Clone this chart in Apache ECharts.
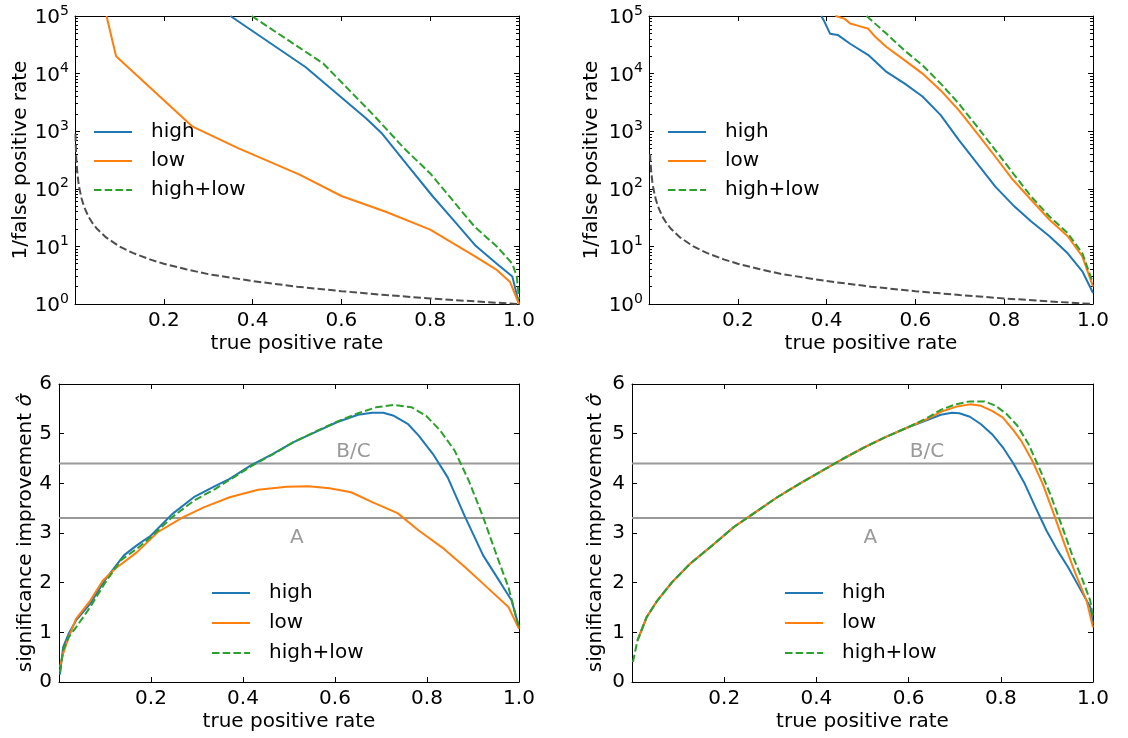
<!DOCTYPE html>
<html><head><meta charset="utf-8">
<script src="https://cdn.jsdelivr.net/npm/echarts@6/dist/echarts.min.js"></script>
<style>html,body{margin:0;padding:0;background:#fff}#c{width:1128px;height:738px}</style>
</head><body><div id="c"></div>
<script>
// ---------- data ----------
const seriesNames = ['high', 'low', 'high+low'];
const seriesColors = ['#1f77b4', '#ff7f0e', '#2ca02c'];

// top-left: 1/FPR vs TPR
const tlHigh = [[0.35,100000],[0.519,13000],[0.656,1660],[0.692,900],[0.75,250],[0.805,75],[0.85,30],[0.901,10.5],[0.95,5],[0.985,3.0],[1.0,1.0]];
const tlLow = [[0.071,100000],[0.0925,20000],[0.265,1200],[0.366,515],[0.507,174],[0.6,75],[0.7,40],[0.8,19.5],[0.9,6.8],[0.95,3.9],[0.98,2.4],[1.0,1.0]];
const tlBoth = [[0.398,100000],[0.559,15000],[0.676,1780],[0.74,515],[0.8,185],[0.85,64],[0.9,22],[0.95,10],[0.985,5],[0.995,3],[1.0,1.2]];
const tlRandom = [[0.0011,900],[0.002,500],[0.003,333],[0.005,200],[0.0075,133],[0.01,100],[0.015,67],[0.02,50],[0.03,33],[0.04,25],[0.05,20],[0.07,14.3],[0.1,10],[0.13,7.7],[0.17,5.9],[0.2,5],[0.25,4],[0.3,3.3],[0.4,2.5],[0.5,2],[0.6,1.67],[0.7,1.43],[0.8,1.25],[0.9,1.11],[1.0,1.0]];

// top-right
const trHigh = [[0.388,100000],[0.395,80000],[0.408,49000],[0.425,47000],[0.453,33000],[0.494,21000],[0.535,10700],[0.576,6700],[0.616,4000],[0.657,1900],[0.698,700],[0.739,277],[0.78,109],[0.82,52],[0.861,27],[0.902,15],[0.943,7.6],[0.976,3.7],[1.0,1.55]];
const trLow = [[0.42,100000],[0.44,90000],[0.453,74000],[0.47,68000],[0.494,60000],[0.51,43000],[0.535,29000],[0.576,17000],[0.616,10000],[0.657,5100],[0.698,2300],[0.739,920],[0.78,360],[0.82,142],[0.861,64],[0.902,29],[0.943,15],[0.976,6.7],[1.0,2.0]];
const trBoth = [[0.49,100000],[0.535,49000],[0.576,25000],[0.616,14000],[0.657,6700],[0.698,3000],[0.739,1200],[0.78,470],[0.82,186],[0.861,73],[0.902,33],[0.943,17],[0.976,7.6],[1.0,2.3]];
const trRandom = [[0.0025,400],[0.003,333],[0.005,200],[0.0075,133],[0.01,100],[0.015,67],[0.02,50],[0.03,33],[0.04,25],[0.05,20],[0.07,14.3],[0.1,10],[0.13,7.7],[0.17,5.9],[0.2,5],[0.25,4],[0.3,3.3],[0.4,2.5],[0.5,2],[0.6,1.67],[0.7,1.43],[0.8,1.25],[0.9,1.11],[1.0,1.0]];

// bottom-left: significance improvement vs TPR
const blHigh = [[0.002,0.15],[0.009,0.7],[0.021,0.97],[0.037,1.24],[0.068,1.58],[0.099,2.04],[0.141,2.55],[0.169,2.75],[0.2,2.95],[0.246,3.38],[0.293,3.72],[0.34,3.95],[0.371,4.09],[0.417,4.36],[0.464,4.59],[0.51,4.83],[0.557,5.03],[0.604,5.23],[0.65,5.38],[0.681,5.42],[0.705,5.42],[0.728,5.36],[0.759,5.19],[0.782,4.96],[0.813,4.59],[0.845,4.12],[0.883,3.32],[0.922,2.55],[0.961,1.98],[0.984,1.64],[1.0,1.1]];
const blLow = [[0.002,0.3],[0.009,0.57],[0.021,0.9],[0.037,1.27],[0.068,1.64],[0.095,2.04],[0.122,2.28],[0.169,2.61],[0.215,3.02],[0.27,3.32],[0.316,3.52],[0.371,3.72],[0.433,3.87],[0.495,3.93],[0.542,3.94],[0.588,3.9],[0.635,3.82],[0.681,3.62],[0.736,3.4],[0.782,3.05],[0.837,2.68],[0.883,2.31],[0.93,1.91],[0.977,1.51],[1.0,1.07]];
const blBoth = [[0.002,0.2],[0.009,0.64],[0.021,0.9],[0.037,1.1],[0.068,1.51],[0.099,1.98],[0.134,2.45],[0.169,2.68],[0.2,2.92],[0.246,3.32],[0.293,3.65],[0.34,3.89],[0.371,4.07],[0.417,4.34],[0.464,4.58],[0.51,4.83],[0.557,5.04],[0.604,5.24],[0.65,5.41],[0.689,5.53],[0.728,5.58],[0.767,5.53],[0.798,5.36],[0.829,5.06],[0.86,4.66],[0.891,4.05],[0.922,3.32],[0.953,2.51],[0.977,1.91],[0.992,1.37],[1.0,1.1]];

// bottom-right
const brHead = [[0.012,0.84],[0.032,1.31],[0.055,1.64],[0.087,2.01],[0.126,2.38],[0.174,2.75],[0.221,3.12],[0.268,3.42],[0.315,3.72],[0.363,3.99],[0.41,4.24],[0.457,4.49],[0.505,4.73],[0.552,4.94],[0.599,5.13]];
const brBothStart = [[0.002,0.4]];
const brHighTail = [[0.639,5.27],[0.67,5.38],[0.694,5.42],[0.71,5.41],[0.733,5.34],[0.757,5.19],[0.781,4.99],[0.804,4.73],[0.828,4.39],[0.852,3.99],[0.875,3.52],[0.899,3.05],[0.923,2.65],[0.946,2.31],[0.97,1.91],[0.994,1.51],[1.0,1.17]];
const brLowTail = [[0.639,5.29],[0.67,5.44],[0.702,5.54],[0.733,5.59],[0.757,5.56],[0.781,5.46],[0.804,5.33],[0.828,5.06],[0.844,4.86],[0.868,4.46],[0.891,3.99],[0.915,3.38],[0.938,2.78],[0.962,2.18],[0.986,1.64],[1.0,1.1]];
const brBothTail = [[0.639,5.31],[0.67,5.48],[0.702,5.59],[0.733,5.65],[0.765,5.65],[0.789,5.56],[0.812,5.4],[0.836,5.16],[0.86,4.79],[0.883,4.32],[0.907,3.79],[0.931,3.18],[0.954,2.58],[0.978,2.04],[0.994,1.64],[1.0,1.31]];

// reference lines and their labels (bottom panels)
const refLevels = [4.4, 3.3];
const refLabels = ['B/C', 'A'];
const refLabelX = [0.64, 0.517];
const refLabelY = [4.63, 2.91];

// axis ticks
const xTickInterval = 0.2;
const logMajor = [1, 10, 100, 1000, 10000, 100000];
const logMinor = [2,3,4,5,6,7,8,9,20,30,40,50,60,70,80,90,200,300,400,500,600,700,800,900,2000,3000,4000,5000,6000,7000,8000,9000,20000,30000,40000,50000,60000,70000,80000,90000];

// ---------- layout ----------
const FONT = 'DejaVu Sans';
const grids = [
  {left: 75, top: 16, width: 444, height: 288},
  {left: 649, top: 16, width: 444, height: 288},
  {left: 59, top: 384, width: 460, height: 298},
  {left: 632, top: 384, width: 461, height: 298}
];
const legendPos = [
  {left: 93, top: 122, gap: 9}, {left: 667, top: 122, gap: 9},
  {left: 211, top: 583, gap: 10}, {left: 784, top: 583, gap: 10}
];
const yNames = ['1/false positive rate', '1/false positive rate',
  'significance improvement {i|σ̂}', 'significance improvement {i|σ̂}'];
const yNameGaps = [38, 47, 22, 26];

const xAxes = [], yAxes = [], series = [];
const axisLineStyle = {show: true, onZero: false, lineStyle: {color: '#000', width: 1}};
const tickStyle = {show: true, inside: true, length: 5, lineStyle: {color: '#000', width: 1}};

function logFmt(v) {
  const e = Math.round(Math.log10(v));
  return '{b|10}{s|' + e + '}';
}

const xIdx = [], yIdx = [];
grids.forEach((g, gi) => {
  const isLog = gi < 2;
  xIdx.push(xAxes.length);
  xAxes.push({
    type: 'value', gridIndex: gi, position: 'bottom', min: 0, max: 1, interval: xTickInterval,
    name: 'true positive rate', nameLocation: 'middle', nameGap: 30,
    nameTextStyle: {fontFamily: FONT, fontSize: 20, color: '#000'},
    axisLine: axisLineStyle, axisTick: tickStyle, splitLine: {show: false},
    axisLabel: {margin: 7, fontFamily: FONT, fontSize: 20, color: '#000',
      formatter: v => (v === 0 ? '' : v.toFixed(1))}
  });
  xAxes.push({
    type: 'value', gridIndex: gi, position: 'top', min: 0, max: 1, interval: xTickInterval,
    axisLine: axisLineStyle, axisTick: tickStyle, splitLine: {show: false}, axisLabel: {show: false}
  });
  yIdx.push(yAxes.length);
  if (isLog) {
    yAxes.push({
      type: 'log', logBase: 10, gridIndex: gi, position: 'left', min: 1, max: 100000,
      name: yNames[gi], nameLocation: 'middle', nameGap: yNameGaps[gi],
      nameTextStyle: {fontFamily: FONT, fontSize: 20, color: '#000'},
      axisLine: axisLineStyle, axisTick: Object.assign({}, tickStyle, {customValues: logMajor}),
      splitLine: {show: false},
      axisLabel: {margin: 6, fontFamily: FONT, color: '#000', formatter: logFmt, customValues: logMajor,
        rich: {b: {fontFamily: FONT, fontSize: 20, lineHeight: 24, verticalAlign: 'bottom', color: '#000'},
               s: {fontFamily: FONT, fontSize: 14, lineHeight: 17, verticalAlign: 'top', color: '#000'}}}
    });
    yAxes.push({
      type: 'log', logBase: 10, gridIndex: gi, position: 'right', min: 1, max: 100000,
      axisLine: axisLineStyle, axisTick: Object.assign({}, tickStyle, {customValues: logMajor}),
      splitLine: {show: false}, axisLabel: {show: false}
    });
    // minor ticks (left and right)
    ['left', 'right'].forEach(p => {
      yAxes.push({
        type: 'log', logBase: 10, gridIndex: gi, position: p, min: 1, max: 100000,
        axisLine: {show: false, onZero: false},
        axisTick: {show: true, inside: true, length: 3, customValues: logMinor, lineStyle: {color: '#000', width: 1}},
        splitLine: {show: false}, axisLabel: {show: false}
      });
    });
  } else {
    yAxes.push({
      type: 'value', gridIndex: gi, position: 'left', min: 0, max: 6, interval: 1,
      name: yNames[gi], nameLocation: 'middle', nameGap: yNameGaps[gi],
      nameTextStyle: {fontFamily: FONT, fontSize: 20, color: '#000',
        rich: {i: {fontFamily: FONT, fontSize: 20, fontStyle: 'italic', color: '#000'}}},
      axisLine: axisLineStyle, axisTick: tickStyle, splitLine: {show: false},
      axisLabel: {margin: 7, fontFamily: FONT, fontSize: 20, color: '#000'}
    });
    yAxes.push({
      type: 'value', gridIndex: gi, position: 'right', min: 0, max: 6, interval: 1,
      axisLine: axisLineStyle, axisTick: tickStyle, splitLine: {show: false}, axisLabel: {show: false}
    });
  }
});

function line(name, data, gi, color, dashed, z) {
  return {
    type: 'line', name: name, data: data, xAxisIndex: xIdx[gi], yAxisIndex: yIdx[gi],
    symbol: 'none', showSymbol: false, silent: true, z: z || 3, clip: true,
    lineStyle: {color: color, width: 2, type: dashed ? [7.5, 3.2] : 'solid'},
    itemStyle: {color: color}
  };
}

const panels = [
  [tlHigh, tlLow, tlBoth],
  [trHigh, trLow, trBoth],
  [blHigh, blLow, blBoth],
  [brHead.concat(brHighTail), brHead.concat(brLowTail), brBothStart.concat(brHead, brBothTail)]
];

// random-classifier dashed curves (top panels)
series.push(line('random', tlRandom, 0, '#4d4d4d', true, 2));
series.push(line('random', trRandom, 1, '#4d4d4d', true, 2));

// reference lines + labels (bottom panels)
[2, 3].forEach(gi => {
  refLevels.forEach(lv => {
    series.push(line('ref', [[0, lv], [1, lv]], gi, '#999999', false, 1));
  });
  series.push({
    type: 'scatter', xAxisIndex: xIdx[gi], yAxisIndex: yIdx[gi], silent: true, z: 1,
    symbolSize: 1, itemStyle: {color: 'rgba(0,0,0,0)'},
    data: refLabels.map((t, i) => [refLabelX[i], refLabelY[i], t]),
    label: {show: true, position: 'inside', formatter: p => p.value[2],
      fontFamily: FONT, fontSize: 20, color: '#808080'}
  });
});

panels.forEach((arrs, gi) => {
  arrs.forEach((d, si) => {
    series.push(line(seriesNames[si], d, gi, seriesColors[si], si === 2, 3 + si));
  });
});

const legends = legendPos.map(p => ({
  left: p.left, top: p.top, orient: 'vertical', data: seriesNames, padding: 0,
  itemWidth: 38, itemHeight: 14, itemGap: p.gap, selectedMode: false,
  itemStyle: {opacity: 0, borderWidth: 0},
  textStyle: {fontFamily: FONT, fontSize: 20, color: '#000', padding: [0, 0, 0, 14]}
}));

const chart = echarts.init(document.getElementById('c'), null, {renderer: 'canvas'});
chart.setOption({
  animation: false,
  backgroundColor: '#fff',
  grid: grids.map(g => Object.assign({containLabel: false}, g)),
  xAxis: xAxes,
  yAxis: yAxes,
  legend: legends,
  series: series
});
</script></body></html>
